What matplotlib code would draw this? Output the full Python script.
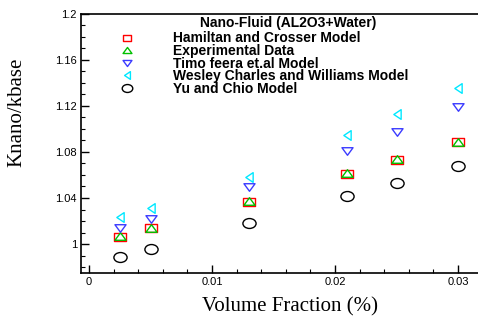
import matplotlib
matplotlib.use('Agg')
import matplotlib.pyplot as plt
from matplotlib.path import Path
from matplotlib.transforms import Affine2D
from matplotlib.ticker import MultipleLocator, FormatStrFormatter

vol_frac = [0.0025, 0.005, 0.013, 0.021, 0.025, 0.03]

hamilton = [1.0064, 1.0136, 1.0368, 1.0609, 1.0731, 1.0885]
experimental = [1.0067, 1.0140, 1.0370, 1.0614, 1.0736, 1.0887]
timofeeva = [1.0136, 1.0217, 1.0493, 1.0812, 1.0972, 1.1190]
wesley = [1.0238, 1.0316, 1.0586, 1.0948, 1.1130, 1.1360]
yu_chio = [0.9890, 0.9954, 1.0185, 1.0418, 1.0533, 1.0680]

labels = ['Hamiltan and Crosser Model', 'Experimental Data',
          'Timo feera et.al Model', 'Wesley Charles and Williams Model',
          'Yu and Chio Model']
legend_title = 'Nano-Fluid (AL2O3+Water)'

# markers in the original look squashed vertically
squash = Affine2D().scale(1.0, 0.68)
sq = squash.transform_path(Path([(-1, -1), (1, -1), (1, 1), (-1, 1), (-1, -1)], closed=True))
tri_up = squash.transform_path(Path([(-1, -1), (1, -1), (0, 1), (-1, -1)], closed=True))
tri_dn = squash.transform_path(Path([(-1, 1), (1, 1), (0, -1), (-1, 1)], closed=True))
tri_lf = Affine2D().scale(0.75, 1.0).transform_path(Path([(1, -1), (1, 1), (-1, 0), (1, -1)], closed=True))
circ = Affine2D().scale(1.0, 0.75).transform_path(Path.unit_circle())

fig = plt.figure(figsize=(4.78, 3.16), dpi=100)
ax = fig.add_axes([0.1695, 0.136, 0.835, 0.82])

kw = dict(ls='none', mfc='none', mew=1.0)
ax.plot(vol_frac, hamilton, marker=sq, mec='red', ms=8, label=labels[0], **kw)
ax.plot(vol_frac, experimental, marker=tri_up, mec='#00c000', ms=8, label=labels[1], **kw)
ax.plot(vol_frac, timofeeva, marker=tri_dn, mec='#3c3cff', ms=8, label=labels[2], **kw)
ax.plot(vol_frac, wesley, marker=tri_lf, mec='#00e8ff', ms=7, label=labels[3], **kw)
ax.plot(vol_frac, yu_chio, marker=circ, mec='black', ms=9.5, label=labels[4], **kw)

ax.set_xlim(-0.00065, 0.0318)
ax.set_ylim(0.9748, 1.2)
ax.xaxis.set_major_locator(MultipleLocator(0.01))
ax.xaxis.set_minor_locator(MultipleLocator(0.002))
ax.yaxis.set_major_locator(MultipleLocator(0.04))
ax.yaxis.set_minor_locator(MultipleLocator(0.01))
ax.xaxis.set_major_formatter(FormatStrFormatter('%g'))
ax.yaxis.set_major_formatter(FormatStrFormatter('%g'))
ax.tick_params(which='both', direction='in', labelsize=8, pad=3)
ax.tick_params(which='major', length=6, width=1)
ax.tick_params(which='minor', length=3, width=0.8)
ax.tick_params(top=False, right=False, which='both')
for t in ax.get_xticklabels() + ax.get_yticklabels():
    t.set_family('Liberation Sans')
for s in ax.spines.values():
    s.set_linewidth(1.2)
ax.spines['right'].set_visible(False)

ax.set_xlabel('Volume Fraction (%)', family='Liberation Serif', fontsize=15)
ax.set_ylabel('Knano/kbase', family='Liberation Serif', fontsize=15)
ax.xaxis.set_label_coords(0.524, -0.095)
ax.yaxis.set_label_coords(-0.138, 0.622)

leg = ax.legend(loc='upper left', bbox_to_anchor=(0.066, 0.954), frameon=False,
                prop={'family': 'Liberation Sans', 'weight': 'bold', 'size': 10},
                handletextpad=2.3, labelspacing=-0.1, borderaxespad=0.0,
                markerscale=0.8)
ax.text(0.519, 0.965, legend_title, transform=ax.transAxes, ha='center', va='center',
        family='Liberation Sans', weight='bold', fontsize=10)

fig.savefig('out.png', dpi=100)
